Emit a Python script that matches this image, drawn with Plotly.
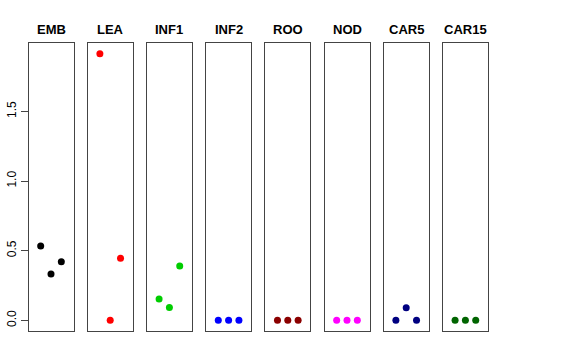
import plotly.graph_objects as go

categories = ["EMB", "LEA", "INF1", "INF2", "ROO", "NOD", "CAR5", "CAR15"]
colors = ["#000000", "#FF0000", "#00CD00", "#0000FF", "#8B0000", "#FF00FF", "#000080", "#006400"]
x_idx = [1, 2, 3]
values = {
    "EMB": [0.533, 0.332, 0.421],
    "LEA": [1.914, 0.0, 0.445],
    "INF1": [0.153, 0.093, 0.39],
    "INF2": [0.0, 0.0, 0.0],
    "ROO": [0.0, 0.0, 0.0],
    "NOD": [0.0, 0.0, 0.0],
    "CAR5": [0.0, 0.09, 0.0],
    "CAR15": [0.0, 0.0, 0.0],
}
ytick_vals = [0.0, 0.5, 1.0, 1.5]
ytick_text = ["0.0", "0.5", "1.0", "1.5"]

W, H = 576, 360
left0 = 28.5
step = 59.2
pw = 45
ytop, ybot = 43, 331
ymax = max(max(v) for v in values.values())
yr = [0 - 0.04 * ymax, ymax * 1.04]

fig = go.Figure()
layout = dict(
    width=W, height=H, margin=dict(l=0, r=0, t=0, b=0),
    plot_bgcolor="white", paper_bgcolor="white", showlegend=False,
    font=dict(family="Liberation Sans, Arial, sans-serif", color="black"),
)
annotations = []
for i, cat in enumerate(categories):
    n = "" if i == 0 else str(i + 1)
    x0 = left0 + i * step
    fig.add_trace(go.Scatter(
        x=x_idx, y=values[cat], mode="markers",
        marker=dict(color=colors[i], size=7),
        xaxis="x" + n, yaxis="y" + n, hoverinfo="skip",
    ))
    layout["xaxis" + n] = dict(
        domain=[x0 / W, (x0 + pw) / W], range=[-0.18, 4.18],
        showticklabels=False, ticks="", showgrid=False, zeroline=False,
        showline=True, mirror=True, linecolor="#444", linewidth=1,
        anchor="y" + n, fixedrange=True,
    )
    ya = dict(
        domain=[(H - ybot) / H, (H - ytop) / H], range=yr,
        showgrid=False, zeroline=False,
        showline=True, mirror=True, linecolor="#444", linewidth=1,
        anchor="x" + n, fixedrange=True,
    )
    if i == 0:
        ya.update(tickvals=ytick_vals, ticktext=ytick_text, ticks="outside",
                  ticklen=7, tickcolor="#444", tickangle=-90,
                  tickfont=dict(size=12, color="black"))
    else:
        ya.update(showticklabels=False, ticks="")
    layout["yaxis" + n] = ya
    annotations.append(dict(
        x=(x0 + pw / 2) / W, y=(H - 29) / H, xref="paper", yref="paper",
        text="<b>" + cat + "</b>", showarrow=False,
        font=dict(size=13, color="black"), xanchor="center", yanchor="middle",
    ))
layout["annotations"] = annotations
fig.update_layout(**layout)
fig.write_html("out.html", config={"displayModeBar": False},
               post_script="document.body.style.margin='0';")
